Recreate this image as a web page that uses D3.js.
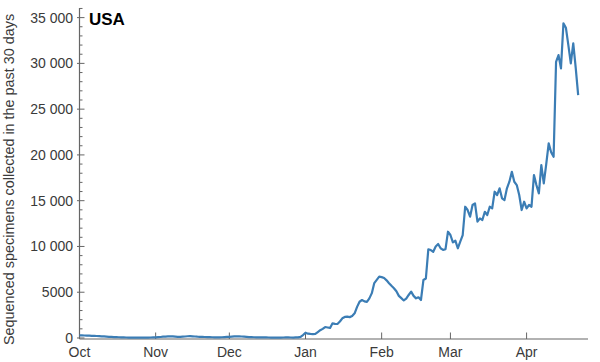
<!DOCTYPE html>
<html>
<head>
<meta charset="utf-8">
<script src="https://cdn.jsdelivr.net/npm/d3@7"></script>
<style>
  html, body { margin: 0; padding: 0; background: #fff; }
  svg { display: block; }
  text { font-family: "Liberation Sans", Arial, Helvetica, sans-serif; }
</style>
</head>
<body>
<svg id="chart" width="600" height="362"></svg>
<script>
// ---- data ----
const region = "USA";
const yTitle = "Sequenced specimens collected in the past 30 days";
const startDate = "2021-10-01";
const octValues = [290,280,275,265,255,240,230,215,200,185,170,150,130,115,100,95,80,70,60,55,50,45,45,50,55,50,45,40,45,55,60];
const novValues = [70,90,110,140,160,170,175,170,150,130,120,140,160,190,200,185,160,140,130,120,110,100,90,80,75,70,70,80,100,120];
const decValues = [130,150,170,190,180,160,140,120,100,90,80,75,70,65,60,60,55,50,50,45,45,50,55,60,60,55,50,60,70,120,320];
const janValues = [580,470,440,430,450,650,850,1000,1200,1150,1100,1600,1550,1530,1800,2150,2300,2330,2280,2400,2700,3400,3960,4150,4000,3950,4330,4900,6000,6350,6700];
const febValues = [6650,6550,6300,5990,5700,5430,5100,4600,4350,4100,4300,4700,5060,4600,4330,4450,4150,6330,6500,9690,9610,9420,10000,10270,9800,9620,9700,11610];
const marValues = [11250,10450,10630,9800,10520,11250,14340,13980,13250,14530,14710,12720,13070,12890,13790,13430,14340,14160,15980,15620,16350,15260,15070,16350,17070,18160,17070,16710,15620,13980,14890];
const aprValues = [14160,14530,14340,17800,16710,15800,18890,16900,19000,21260,20300,19800,30170,30900,29450,34370,33900,32000,30000,32190,29500,26540];
const xTickLabels = ["Oct","Nov","Dec","Jan","Feb","Mar","Apr"];
const xTickDates = ["2021-10-01","2021-11-01","2021-12-01","2022-01-01","2022-02-01","2022-03-01","2022-04-01"];
const yMajorTicks = [0,5000,10000,15000,20000,25000,30000,35000];

// ---- build series ----
const allValues = [].concat(octValues, novValues, decValues, janValues, febValues, marValues, aprValues);
const parse = d3.utcParse("%Y-%m-%d");
const start = parse(startDate);
const series = allValues.map((v, i) => ({ date: d3.utcDay.offset(start, i), value: v }));

// ---- scales ----
const svg = d3.select("#chart");
const x = d3.scaleUtc()
  .domain([parse("2021-10-01"), parse("2022-04-26")])
  .range([79.5, 588]);
const y = d3.scaleLinear()
  .domain([-110, 36050])
  .range([339, 8]);

const axisColor = "#666";
const textColor = "#3a3a3a";

// ---- axes lines ----
svg.append("line")
  .attr("x1", 79.5).attr("x2", 79.5)
  .attr("y1", y.range()[1]).attr("y2", 339)
  .attr("stroke", axisColor).attr("stroke-width", 1.2);
svg.append("line")
  .attr("x1", 79.5).attr("x2", 588)
  .attr("y1", 339).attr("y2", 339)
  .attr("stroke", axisColor).attr("stroke-width", 1.2);

// y minor ticks
const minorTicks = d3.range(0, 36001, 1000).filter(v => v % 5000 !== 0);
svg.append("g").selectAll("line").data(minorTicks).join("line")
  .attr("x1", 79.5).attr("x2", 82.5)
  .attr("y1", d => y(d)).attr("y2", d => y(d))
  .attr("stroke", axisColor).attr("stroke-width", 1);
// y major ticks
svg.append("g").selectAll("line").data(yMajorTicks).join("line")
  .attr("x1", 77).attr("x2", 84.5)
  .attr("y1", d => y(d)).attr("y2", d => y(d))
  .attr("stroke", axisColor).attr("stroke-width", 1);

const fmtSpace = d3.formatLocale({ decimal: ".", thousands: " ", grouping: [3], currency: ["", ""] }).format(",d");
const fmt = v => v >= 10000 ? fmtSpace(v) : String(v);

svg.append("g").selectAll("text").data(yMajorTicks).join("text")
  .attr("x", 73).attr("y", d => y(d))
  .attr("dy", "0.36em")
  .attr("text-anchor", "end")
  .attr("font-size", 14)
  .attr("fill", textColor)
  .text(d => fmt(d));

// x ticks
const xt = xTickDates.map((d, i) => ({ date: parse(d), label: xTickLabels[i] }));
svg.append("g").selectAll("line").data(xt).join("line")
  .attr("x1", d => x(d.date)).attr("x2", d => x(d.date))
  .attr("y1", 339).attr("y2", 332.5)
  .attr("stroke", axisColor).attr("stroke-width", 1);
svg.append("g").selectAll("text").data(xt).join("text")
  .attr("x", d => x(d.date)).attr("y", 357)
  .attr("text-anchor", "middle")
  .attr("font-size", 14)
  .attr("fill", textColor)
  .text(d => d.label);

// y title
svg.append("text")
  .attr("transform", "translate(14,345) rotate(-90)")
  .attr("text-anchor", "start")
  .attr("font-size", 14.4)
  .attr("fill", textColor)
  .text(yTitle);

// region label
svg.append("text")
  .attr("x", 89).attr("y", 25)
  .attr("font-size", 17)
  .attr("font-weight", "bold")
  .attr("fill", "#000")
  .text(region);

// line
const line = d3.line().x(d => x(d.date)).y(d => y(d.value));
svg.append("path")
  .datum(series)
  .attr("fill", "none")
  .attr("stroke", "#3b7db5")
  .attr("stroke-width", 2.2)
  .attr("stroke-linejoin", "round")
  .attr("d", line);
</script>
</body>
</html>
